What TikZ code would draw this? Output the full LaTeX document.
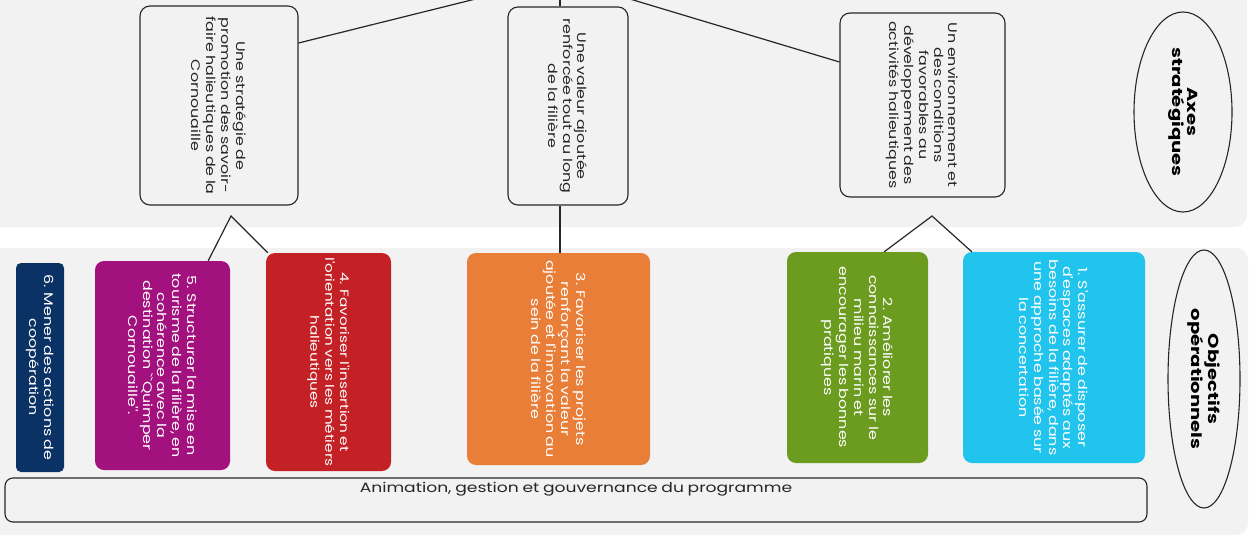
\documentclass[tikz,border=0pt]{standalone}
\usepackage{fontspec}
\setmainfont{Poppins}
\newfontfamily\widefont[FakeStretch=1.27,WordSpace=0.8]{Poppins}
\newfontfamily\tagfont[FakeStretch=1.35]{Poppins}
\usetikzlibrary{calc,shapes.geometric}

\definecolor{panel}{HTML}{F2F2F2}
\definecolor{navy}{HTML}{0B3264}
\definecolor{plum}{HTML}{A2117E}
\definecolor{brick}{HTML}{C42126}
\definecolor{tangerine}{HTML}{E97E38}
\definecolor{leaf}{HTML}{6B9C20}
\definecolor{sky}{HTML}{21C4EC}

\begin{document}
\begin{tikzpicture}[x=1pt,y=-1pt,
  axebox/.style={draw=black!85, line width=1.1pt, rounded corners=10pt, fill=panel, inner sep=0pt},
  objbox/.style={draw=none, rounded corners=9pt, inner sep=0pt},
  axetxt/.style={rotate=-90, align=center, text=black!85, inner sep=0pt,
    font=\widefont\fontsize{12.5}{14.8}\selectfont},
  objtxt/.style={rotate=-90, align=center, text=white, inner sep=0pt,
    font=\widefont\fontsize{12.5}{14.8}\selectfont},
  tagshape/.style={ellipse, draw=black!85, line width=1.1pt, inner sep=0pt},
  tagtxt/.style={rotate=-90, align=center, text=black, inner sep=0pt,
    font=\tagfont\fontsize{14.5}{15.5}\selectfont\bfseries},
  link/.style={draw=black!85, line width=1.2pt}
]
\useasboundingbox (0,0) rectangle (1257,541);
\clip (0,0) rectangle (1257,541);

% background bands
\fill[panel, rounded corners=12pt] (-20,-20) rectangle (1247,227);
\fill[panel, rounded corners=12pt] (-20,248) rectangle (1248,535);

% strategic axes
\node[axebox, minimum width=158, minimum height=199] (axA) at (219,105.5) {};
\node[axetxt] (axAt) at (axA) {Une stratégie de\\promotion des savoir-\\faire halieutiques de la\\Cornouaille};
\node[axebox, minimum width=120, minimum height=198] (axB) at (568,106) {};
\node[axetxt] (axBt) at (axB) {Une valeur ajoutée\\renforcée tout au long\\de la filière};
\node[axebox, minimum width=165, minimum height=184] (axC) at (922.5,105) {};
\node[axetxt] (axCt) at (axC) {Un environnement et\\des conditions\\favorables au\\développement des\\activités halieutiques};

\node[tagshape, minimum width=98, minimum height=200] (tagA) at (1183,112) {};
\node[tagtxt] (tagAt) at (tagA) {Axes\\stratégiques};

% operational objectives
\node[objbox, fill=navy, minimum width=48, minimum height=209, rounded corners=5pt] (o6) at (40,367.5) {};
\node[objtxt] (o6t) at (o6) {6. Mener des actions de\\coopération};
\node[objbox, fill=plum, minimum width=135, minimum height=209] (o5) at (162.5,365.5) {};
\node[objtxt] (o5t) at (o5) {5. Structurer la mise en\\tourisme de la filière, en\\cohérence avec la\\destination ``Quimper\\Cornouaille''.};
\node[objbox, fill=brick, minimum width=125, minimum height=218] (o4) at (328.5,362) {};
\node[objtxt, font=\widefont\fontsize{12}{14.8}\selectfont] (o4t) at (o4) {4. Favoriser l'insertion et\\l'orientation vers les métiers\\halieutiques};
\node[objbox, fill=tangerine, minimum width=183, minimum height=212] (o3) at (558.5,359) {};
\node[objtxt] (o3t) at (o3) {3. Favoriser les projets\\renforçant la valeur\\ajoutée et l'innovation au\\sein de la filière};
\node[objbox, fill=leaf, minimum width=141, minimum height=211] (o2) at (857.5,357.5) {};
\node[objtxt] (o2t) at (o2) {2. Améliorer les\\connaissances sur le\\milieu marin et\\encourager les bonnes\\pratiques};
\node[objbox, fill=sky, minimum width=182, minimum height=211] (o1) at (1054,357.5) {};
\node[objtxt] (o1t) at (o1) {1. S'assurer de disposer\\d'espaces adaptés aux\\besoins de la filière, dans\\une approche basée sur\\la concertation};

\node[tagshape, minimum width=72, minimum height=258] (tagB) at (1204,379) {};
\node[tagtxt] (tagBt) at (tagB) {Objectifs\\opérationnels};

% programme management band
\node[axebox, rounded corners=8pt, minimum width=1142, minimum height=44] (prog) at (576,500) {};
\node[text=black!85, inner sep=0pt, font=\widefont\fontsize{13.5}{16}\selectfont] (progt) at ($(prog.north)+(0,12)$) {Animation, gestion et gouvernance du programme};

% connectors
\coordinate (root) at (560,-22);
\coordinate (forkA) at (231,216);
\coordinate (forkC) at (932,216);
\draw[link] (root) -- (axA.east |- 0,43);
\draw[link] (root) -- (root |- axB.north);
\draw[link] (root) -- (axC.west |- 0,62);
\draw[link] ([xshift=-22]o5.north east) -- (forkA) -- ([xshift=2]o4.north west);
\draw[link] (axB.south -| root) -- (o3.north -| root);
\draw[link] ([xshift=-44]o2.north east) -- (forkC) -- ([xshift=9]o1.north west);
\end{tikzpicture}
\end{document}
